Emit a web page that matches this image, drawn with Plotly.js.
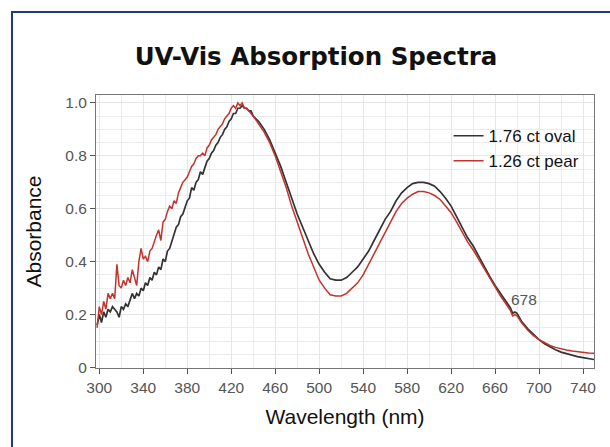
<!DOCTYPE html>
<html>
<head>
<meta charset="utf-8">
<script src="https://cdn.plot.ly/plotly-3.0.1.min.js"></script>
<style>html,body{margin:0;padding:0;background:#fff;}#chart{width:610px;height:447px;}</style>
</head>
<body>
<div id="chart"></div>
<script>
// Wavelength (nm)
const wavelength = [
  298,300,302,304,306,308,310,312,314,316,318,320,322,324,326,328,330,332,334,336,338,340,
  342,344,346,348,350,352,354,356,358,360,362,364,366,368,370,372,374,376,378,380,382,384,
  386,388,390,392,394,396,398,400,402,404,406,408,410,412,414,416,418,420,422,424,426,428,
  430,432,434,436,438,440,
  445,450,455,460,465,470,475,480,485,490,495,500,505,510,515,520,525,530,535,540,545,550,
  555,560,565,570,575,580,585,590,595,600,605,610,615,620,625,630,635,640,645,650,655,660,
  665,670,674,676,678,680,684,690,695,700,705,710,715,720,725,730,735,740,745,750
];
// 1.76 ct oval
const ovalAbs = [
  0.16,0.20,0.17,0.21,0.19,0.22,0.21,0.23,0.22,0.21,0.19,0.23,0.22,0.24,0.23,0.26,0.28,0.26,0.28,0.27,0.30,0.29,
  0.32,0.31,0.34,0.33,0.36,0.35,0.38,0.37,0.41,0.40,0.44,0.45,0.48,0.50,0.53,0.54,0.57,0.58,0.61,0.63,0.64,0.68,
  0.67,0.70,0.71,0.74,0.73,0.76,0.78,0.79,0.81,0.82,0.84,0.85,0.87,0.88,0.90,0.91,0.93,0.94,0.96,0.96,0.98,0.98,
  0.99,0.98,0.98,0.97,0.97,0.95,
  0.93,0.90,0.86,0.81,0.76,0.70,0.64,0.58,0.53,0.48,0.43,0.39,0.36,0.335,0.33,0.33,0.34,0.36,0.38,0.41,0.44,0.48,
  0.52,0.56,0.59,0.63,0.66,0.68,0.695,0.70,0.70,0.695,0.685,0.665,0.64,0.61,0.57,0.53,0.49,0.46,0.42,0.38,0.345,0.31,
  0.28,0.25,0.225,0.205,0.21,0.205,0.175,0.145,0.125,0.105,0.09,0.078,0.067,0.058,0.052,0.046,0.041,0.037,0.033,0.030
];
// 1.26 ct pear
const pearAbs = [
  0.15,0.23,0.20,0.25,0.22,0.28,0.26,0.28,0.26,0.39,0.31,0.30,0.33,0.31,0.34,0.32,0.37,0.34,0.31,0.40,0.45,0.41,
  0.42,0.40,0.44,0.45,0.48,0.50,0.52,0.48,0.55,0.56,0.59,0.61,0.60,0.63,0.62,0.66,0.68,0.70,0.71,0.72,0.74,0.76,
  0.77,0.79,0.80,0.80,0.81,0.80,0.83,0.84,0.86,0.87,0.88,0.90,0.91,0.92,0.94,0.95,0.96,0.98,0.99,0.98,1.00,0.99,
  1.00,0.98,0.98,0.97,0.96,0.95,
  0.92,0.89,0.85,0.80,0.74,0.68,0.61,0.55,0.49,0.43,0.38,0.33,0.30,0.275,0.27,0.27,0.28,0.30,0.32,0.35,0.39,0.43,
  0.47,0.51,0.55,0.59,0.62,0.64,0.655,0.665,0.665,0.66,0.65,0.635,0.61,0.585,0.55,0.51,0.475,0.445,0.41,0.37,0.335,0.30,
  0.27,0.24,0.215,0.195,0.20,0.195,0.17,0.14,0.12,0.105,0.093,0.083,0.076,0.070,0.066,0.062,0.059,0.057,0.055,0.054
];
const seriesNames = ["1.76 ct oval", "1.26 ct pear"];
const xTickVals = [300,340,380,420,460,500,540,580,620,660,700,740];
const yTickVals = [0,0.2,0.4,0.6,0.8,1.0];
const yTickText = ["0","0.2","0.4","0.6","0.8","1.0"];
const peakLabel = {x: 686, y: 0.257, text: "678"};

const sans = "Liberation Sans, Arial, sans-serif";
const axisFont = {family: sans, size: 15.5, color: "#555"};

const traces = [
  {x: wavelength, y: ovalAbs, name: seriesNames[0], type: "scatter", mode: "lines", legendgroup: "a",
   line: {color: "#333333", width: 1.7}},
  {x: wavelength, y: pearAbs, name: seriesNames[1], type: "scatter", mode: "lines", legendgroup: "b",
   line: {color: "#c4322b", width: 1.5}}
];

const layout = {
  width: 610, height: 447,
  margin: {l: 96, r: 16, t: 95, b: 79},
  paper_bgcolor: "#ffffff", plot_bgcolor: "#ffffff",
  title: {text: "<b>UV-Vis Absorption Spectra</b>", x: 316/610, xanchor: "center",
          y: 1 - 56/447, yanchor: "middle", yref: "container",
          font: {family: "DejaVu Sans, sans-serif", size: 24.5, color: "#111"}},
  xaxis: {
    range: [297, 750], tickvals: xTickVals, ticks: "outside", ticklen: 5, tickcolor: "#555",
    tickfont: axisFont, showline: true, linecolor: "#777", mirror: true, linewidth: 1,
    showgrid: true, gridcolor: "#e6e6e6", zeroline: false,
    minor: {dtick: 20, tick0: 300, showgrid: true, gridcolor: "#ececec", ticks: ""},
    title: {text: "Wavelength (nm)", standoff: 14, font: {family: sans, size: 21, color: "#111"}}
  },
  yaxis: {
    range: [-0.002, 1.03], tickvals: yTickVals, ticktext: yTickText, ticks: "outside", ticklen: 5,
    tickcolor: "#555", tickfont: axisFont, showline: true, linecolor: "#777", mirror: true, linewidth: 1,
    showgrid: true, gridcolor: "#e6e6e6", zeroline: false,
    minor: {dtick: 0.05, tick0: 0, showgrid: true, gridcolor: "#ececec", ticks: ""},
    title: {text: "Absorbance", standoff: 17, font: {family: sans, size: 21, color: "#111"}}
  },
  legend: {x: 0.708, y: 0.915, xanchor: "left", yanchor: "top", bgcolor: "rgba(0,0,0,0)",
           font: {family: sans, size: 17, color: "#111"},
           traceorder: "grouped", tracegroupgap: 0, itemwidth: 30},
  showlegend: true,
  annotations: [
    {x: peakLabel.x, y: peakLabel.y, xref: "x", yref: "y", text: peakLabel.text, showarrow: false,
     font: {family: sans, size: 15.5, color: "#555"}}
  ],
  shapes: [
    {type: "rect", xref: "paper", yref: "paper", x0: -0.1687, x1: 1.2, y0: -0.4, y1: (368-12)/273,
     line: {color: "#1f3a78", width: 2}, fillcolor: "rgba(0,0,0,0)", layer: "below"}
  ]
};

Plotly.newPlot("chart", traces, layout, {displayModeBar: false, staticPlot: true});
</script>
</body>
</html>
